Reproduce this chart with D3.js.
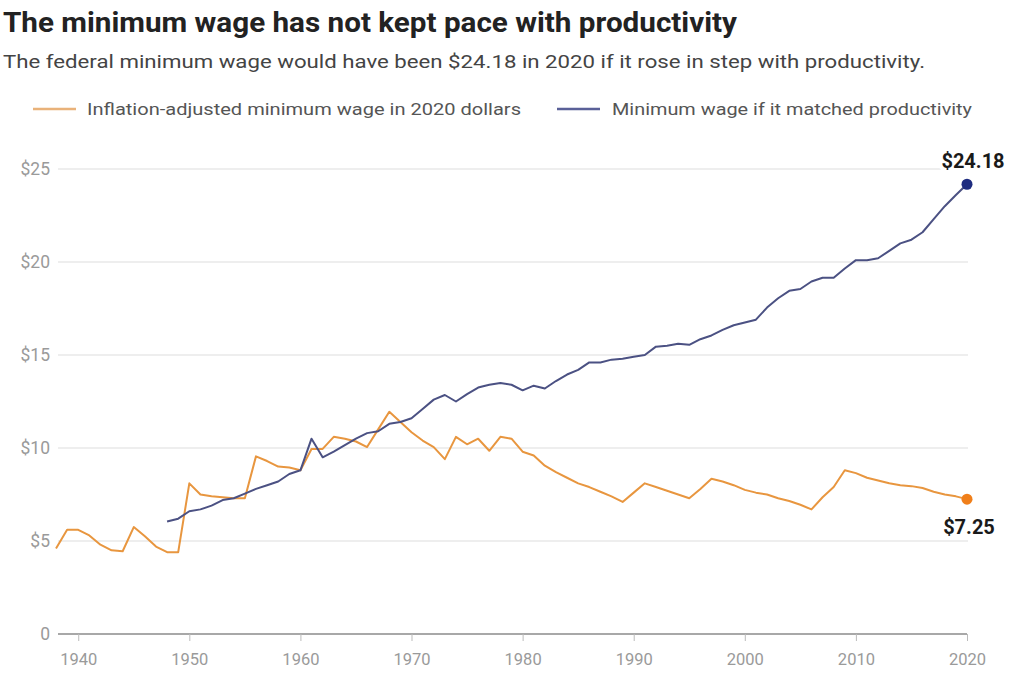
<!DOCTYPE html>
<html><head><meta charset="utf-8">
<script src="https://cdn.jsdelivr.net/npm/d3@7"></script>
<style>
html,body{margin:0;padding:0;background:#fff;}
svg{display:block;font-family:Roboto,"Noto Sans",sans-serif;}
</style></head>
<body>
<svg id="chart" width="1009" height="689"></svg>
<script>
const title = "The minimum wage has not kept pace with productivity";
const subtitle = "The federal minimum wage would have been $24.18 in 2020 if it rose in step with productivity.";
const seriesNames = ["Inflation-adjusted minimum wage in 2020 dollars", "Minimum wage if it matched productivity"];
const xTicks = [1940,1950,1960,1970,1980,1990,2000,2010,2020];
const yTicks = [0,5,10,15,20,25];
const yTickLabels = ["0","$5","$10","$15","$20","$25"];

const minYears = d3.range(1938, 2021);
const minWage = [4.6,5.6,5.6,5.3,4.8,4.5,4.45,5.75,5.25,4.7,4.4,4.4,
  8.1,7.5,7.4,7.35,7.3,7.3,9.55,9.3,9.0,8.95,8.8,
  9.95,9.95,10.6,10.5,10.35,10.05,11.0,11.95,11.4,10.85,10.4,10.05,9.4,
  10.6,10.2,10.5,9.85,10.6,10.5,9.8,9.6,9.05,8.7,8.4,8.1,7.9,7.65,7.4,7.1,
  7.6,8.1,7.9,7.7,7.5,7.3,7.8,8.35,8.2,8.0,7.75,7.6,7.5,7.3,7.15,6.95,6.7,
  7.35,7.9,8.8,8.65,8.4,8.25,8.1,8.0,7.95,7.85,7.65,7.5,7.4,7.25];

const prodYears = d3.range(1948, 2021);
const prodWage = [6.05,6.2,6.6,6.7,6.9,7.2,7.3,7.55,7.8,8.0,8.2,8.6,8.8,
  10.5,9.5,9.8,10.15,10.5,10.8,10.9,11.3,11.4,11.6,12.1,12.6,12.85,12.5,12.9,13.25,13.4,13.5,13.4,
  13.1,13.35,13.2,13.6,13.95,14.2,14.6,14.6,14.75,14.8,14.9,15.0,15.45,15.5,15.6,15.55,15.85,16.05,16.35,16.6,
  16.75,16.9,17.55,18.05,18.45,18.55,18.95,19.15,19.15,19.65,20.1,20.1,20.2,20.6,21.0,21.2,21.6,22.3,23.0,23.6,24.18];

const minColor = "#E8963F", prodColor = "#4B5183";
const minDot = "#F07F1A", prodDot = "#1E2C80";

const svg = d3.select("#chart");
const x = d3.scaleLinear().domain([1938, 2020]).range([56, 967]);
const y = d3.scaleLinear().domain([0, 25]).range([634, 169]);

// Title & subtitle
svg.append("text").attr("x", 3).attr("y", 32).text(title)
  .attr("font-size", 28).attr("font-weight", 700).attr("fill", "#222")
  .attr("textLength", 734).attr("lengthAdjust", "spacingAndGlyphs");
svg.append("text").attr("x", 3).attr("y", 68).text(subtitle)
  .attr("font-size", 18.5).attr("fill", "#444")
  .attr("textLength", 922).attr("lengthAdjust", "spacingAndGlyphs");

// Legend
const leg = [
  {name: seriesNames[0], color: "#E9B27A", x1: 33, x2: 76, tx: 87, tl: 434},
  {name: seriesNames[1], color: "#5A6098", x1: 557, x2: 600, tx: 612, tl: 360}
];
leg.forEach(l => {
  svg.append("line").attr("x1", l.x1).attr("x2", l.x2).attr("y1", 109).attr("y2", 109)
    .attr("stroke", l.color).attr("stroke-width", 2.5);
  svg.append("text").attr("x", l.tx).attr("y", 115).text(l.name)
    .attr("font-size", 16.5).attr("fill", "#555")
    .attr("textLength", l.tl).attr("lengthAdjust", "spacingAndGlyphs");
});

// Gridlines & y labels
const gy = svg.append("g");
gy.selectAll("line.grid").data(yTicks.filter(d => d > 0)).join("line")
  .attr("class", "grid")
  .attr("x1", 58).attr("x2", 968)
  .attr("y1", d => y(d)).attr("y2", d => y(d))
  .attr("stroke", "#e8e8e8").attr("stroke-width", 1.5);
gy.selectAll("text").data(yTicks).join("text")
  .attr("x", 50).attr("y", d => y(d) + 6)
  .attr("text-anchor", "end")
  .attr("font-size", 17.5).attr("fill", "#9a9a9a")
  .text((d, i) => yTickLabels[i]);

// X axis
const xAxis = d3.axisBottom(x).tickValues(xTicks).tickFormat(d3.format("d")).tickSize(7).tickPadding(12);
const gx = svg.append("g").attr("transform", `translate(0,${y(0)})`).call(xAxis);
gx.select(".domain").attr("d", `M58,0H${x(2020)}`).attr("stroke", "#a8a8a8").attr("stroke-width", 2);
gx.selectAll(".tick line").attr("stroke", "#bbb").attr("stroke-width", 1);
gx.selectAll(".tick text").attr("font-size", 16.5).attr("fill", "#9a9a9a")
  .attr("font-family", "Roboto, 'Noto Sans', sans-serif");

// Lines
const line = d3.line().x(d => x(d[0])).y(d => y(d[1]));
const minData = minYears.map((yr, i) => [yr, minWage[i]]);
const prodData = prodYears.map((yr, i) => [yr, prodWage[i]]);
svg.append("path").datum(minData).attr("d", line)
  .attr("fill", "none").attr("stroke", minColor).attr("stroke-width", 2).attr("stroke-linejoin", "round");
svg.append("path").datum(prodData).attr("d", line)
  .attr("fill", "none").attr("stroke", prodColor).attr("stroke-width", 2).attr("stroke-linejoin", "round");

// End dots & labels
const lastMin = minData[minData.length - 1], lastProd = prodData[prodData.length - 1];
svg.append("circle").attr("cx", x(lastMin[0])).attr("cy", y(lastMin[1])).attr("r", 5.5).attr("fill", minDot);
svg.append("circle").attr("cx", x(lastProd[0])).attr("cy", y(lastProd[1])).attr("r", 5.5).attr("fill", prodDot);
svg.append("text").attr("x", x(lastProd[0]) + 6).attr("y", y(lastProd[1]) - 16)
  .attr("text-anchor", "middle").attr("font-size", 20).attr("font-weight", 700).attr("fill", "#1a1a1a")
  .attr("stroke", "#fff").attr("stroke-width", 8).attr("paint-order", "stroke")
  .text("$" + lastProd[1].toFixed(2));
svg.append("text").attr("x", x(lastMin[0]) + 2).attr("y", y(lastMin[1]) + 35)
  .attr("text-anchor", "middle").attr("font-size", 20).attr("font-weight", 700).attr("fill", "#1a1a1a")
  .text("$" + lastMin[1].toFixed(2));
</script>
</body></html>
